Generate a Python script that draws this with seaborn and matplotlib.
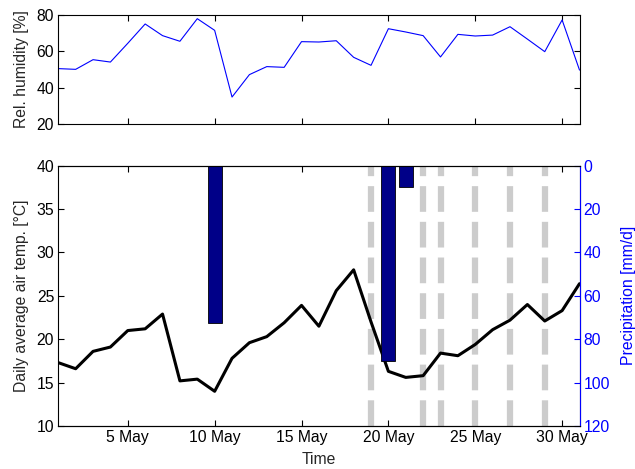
import numpy as np
import pandas as pd
import matplotlib
matplotlib.use("Agg")
import matplotlib.pyplot as plt
import seaborn as sns

# ---- data ----
days = list(range(1, 32))
humidity = [50.4, 50.0, 55.3, 54.0, 64.3, 74.9, 68.5, 65.4, 77.8, 71.4,
            34.8, 47.1, 51.5, 51.1, 65.2, 65.0, 65.7, 56.6, 52.2, 72.3,
            70.5, 68.5, 56.8, 69.2, 68.3, 68.8, 73.4, 66.6, 59.7, 77.1, 49.6]
temperature = [17.3, 16.6, 18.6, 19.1, 21.0, 21.2, 22.9, 15.2, 15.4, 14.0,
               17.8, 19.6, 20.3, 21.9, 23.9, 21.5, 25.6, 28.0, 22.0, 16.3,
               15.6, 15.8, 18.4, 18.1, 19.4, 21.1, 22.2, 24.0, 22.1, 23.3, 26.4]
precip_days = [10, 20, 21]
precip_values = [72.5, 90.0, 10.0]
marker_days = [19, 22, 23, 25, 27, 29]
tick_days = [5, 10, 15, 20, 25, 30]
tick_labels = ["5 May", "10 May", "15 May", "20 May", "25 May", "30 May"]

FS = 11.3

sns.set_style("white")
plt.rcParams["font.family"] = ["Liberation Sans", "DejaVu Sans"]
plt.rcParams["font.size"] = FS
plt.rcParams["xtick.direction"] = "in"
plt.rcParams["ytick.direction"] = "in"
plt.rcParams["lines.scale_dashes"] = False

df = pd.DataFrame({"day": days, "humidity": humidity, "temperature": temperature})

fig = plt.figure(figsize=(6.35, 4.69), dpi=100)
ax_top = fig.add_axes([0.0918, 0.7356, 0.8208, 0.2331])
ax = fig.add_axes([0.0918, 0.0917, 0.8208, 0.555])

# ---- top: humidity ----
sns.lineplot(data=df, x="day", y="humidity", ax=ax_top, color="#0000FF", linewidth=0.8)
ax_top.set_xlim(1, 31)
ax_top.set_ylim(20, 80)
ax_top.set_yticks([20, 40, 60, 80])
ax_top.set_xticks(tick_days)
ax_top.set_xticklabels([])
ax_top.set_xlabel("")
ax_top.set_ylabel("Rel. humidity [%]", fontsize=FS, labelpad=5)
ax_top.tick_params(top=True, right=True, bottom=True, left=True, length=4,
                   width=0.8, labelsize=FS, colors="black", pad=3)
for s in ax_top.spines.values():
    s.set_color("black")
    s.set_linewidth(0.8)

# ---- bottom: temperature ----
for d in marker_days:
    ax.axvline(d, color="#CCCCCC", linewidth=4.5, linestyle=(0, (18.5, 7.2)), zorder=1)
sns.lineplot(data=df, x="day", y="temperature", ax=ax, color="black", linewidth=2.2, zorder=3)
ax.set_xlim(1, 31)
ax.set_ylim(10, 40)
ax.set_yticks([10, 15, 20, 25, 30, 35, 40])
ax.set_xticks(tick_days)
ax.set_xticklabels(tick_labels)
ax.set_xlabel("Time", fontsize=FS, labelpad=5)
ax.set_ylabel("Daily average air temp. [°C]", fontsize=FS, labelpad=5)
ax.tick_params(top=True, bottom=True, left=True, right=False, length=4,
               width=0.8, labelsize=FS, colors="black", pad=3)
for s in ax.spines.values():
    s.set_color("black")
    s.set_linewidth(0.8)

# ---- precipitation (right axis, inverted) ----
ax2 = ax.twinx()
ax2.bar(precip_days, precip_values, width=0.8, color="#000088", edgecolor="black",
        linewidth=0.6, zorder=2)
ax2.set_ylim(120, 0)
ax2.set_yticks([0, 20, 40, 60, 80, 100, 120])
ax2.set_ylabel("Precipitation [mm/d]", color="#0000FF", fontsize=FS, labelpad=8)
ax2.tick_params(axis="y", colors="#0000FF", length=4, width=0.8, labelsize=FS, right=True, pad=3)
ax2.spines["right"].set_color("#0000FF")
ax2.spines["right"].set_linewidth(0.8)
ax2.spines["left"].set_visible(False)
ax2.spines["top"].set_color("black")
ax2.spines["bottom"].set_color("black")
ax2.set_xlim(1, 31)

fig.savefig("out.png", dpi=100)
